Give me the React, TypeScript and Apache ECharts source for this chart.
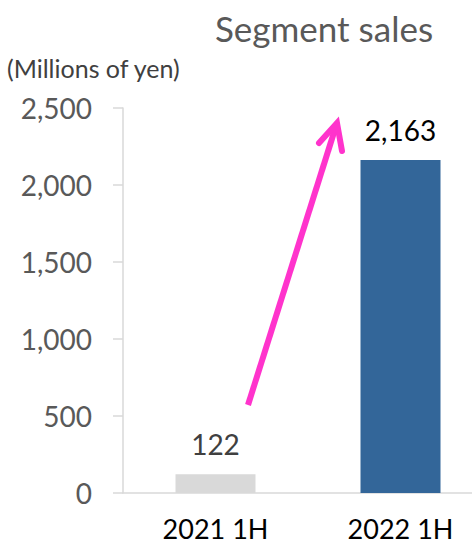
import React, { useEffect, useRef } from "react";
import * as echarts from "echarts";

const categories = ["2021 1H", "2022 1H"];
const salesValues = [122, 2163];
const barColors = ["#d9d9d9", "#336699"];
const labelColors = ["#404040", "#000000"];
const yTicks = { min: 0, max: 2500, interval: 500 };

const FONT = "Lato, 'Open Sans', sans-serif";

export default function App() {
  const ref = useRef<HTMLDivElement>(null);
  useEffect(() => {
    if (!ref.current) return;
    const chart = echarts.init(ref.current, undefined, { renderer: "svg" });
    const pink = "#ff33cc";
    chart.setOption({
      animation: false,
      backgroundColor: "#ffffff",
      textStyle: { fontFamily: FONT },
      title: {
        text: "Segment sales",
        left: 319,
        top: 5,
        textAlign: "center",
        textStyle: { fontSize: 35, fontWeight: "normal", color: "#595959", fontFamily: FONT },
      },
      graphic: [
        {
          type: "text",
          left: 7,
          top: 55,
          style: { text: "(Millions of yen)", fontSize: 25, fill: "#404040", fontFamily: FONT },
        },
        {
          type: "line",
          shape: { x1: 248, y1: 405, x2: 336, y2: 126 },
          style: { stroke: pink, lineWidth: 6, lineCap: "butt" },
          z: 100,
        },
        {
          type: "polyline",
          shape: { points: [[319, 143], [337, 123], [342, 151]] },
          style: { stroke: pink, lineWidth: 6, fill: "none", lineJoin: "miter", lineCap: "round" },
          z: 100,
        },
      ],
      grid: { left: 123, top: 108, right: 0, bottom: 54, containLabel: false },
      xAxis: {
        type: "category",
        data: categories,
        axisLine: { show: true, lineStyle: { color: "#d9d9d9", width: 1.5 } },
        axisTick: { show: false },
        axisLabel: { fontSize: 27, color: "#000000", margin: 22, fontFamily: FONT },
      },
      yAxis: {
        type: "value",
        min: yTicks.min,
        max: yTicks.max,
        interval: yTicks.interval,
        axisLine: { show: true, lineStyle: { color: "#d9d9d9", width: 1.5 } },
        axisTick: { show: true, length: 10, lineStyle: { color: "#d9d9d9", width: 1.5 } },
        splitLine: { show: false },
        axisLabel: {
          fontSize: 28,
          color: "#595959",
          margin: 31,
          fontFamily: FONT,
          formatter: (v: number) => v.toLocaleString("en-US"),
        },
      },
      series: [
        {
          type: "bar",
          barWidth: 80,
          data: salesValues.map((v, i) => ({
            value: v,
            itemStyle: { color: barColors[i] },
            label: { color: labelColors[i] },
          })),
          label: {
            show: true,
            position: "top",
            distance: 16,
            fontSize: 28,
            fontFamily: FONT,
            formatter: (p: any) => Number(p.value).toLocaleString("en-US"),
          },
        },
      ],
    });
    return () => chart.dispose();
  }, []);
  return (
    <div style={{ position: "fixed", left: 0, top: 0, width: 472, height: 547, overflow: "hidden" }}>
      <div ref={ref} style={{ width: 493, height: 547 }} />
    </div>
  );
}
